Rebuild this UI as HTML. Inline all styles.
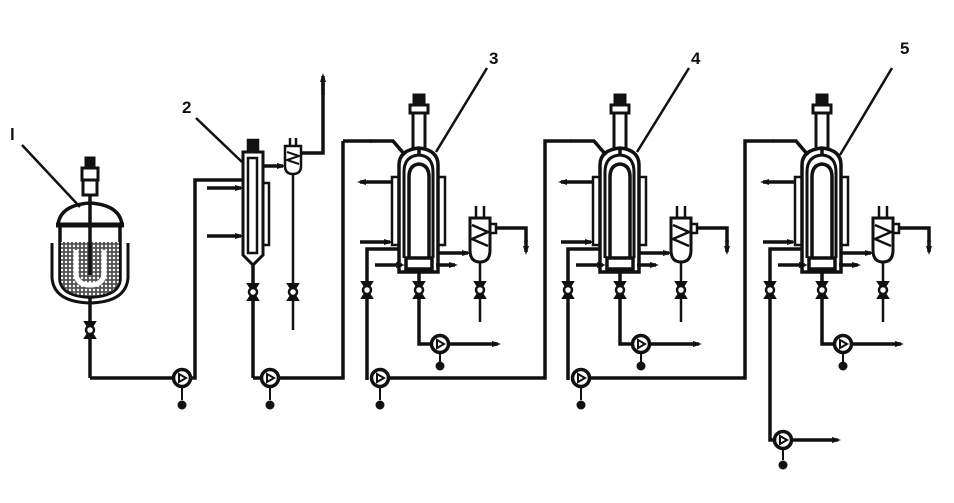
<!DOCTYPE html>
<html><head><meta charset="utf-8"><style>
html,body{margin:0;padding:0;background:#fff;width:954px;height:503px;overflow:hidden}
text{font-family:"Liberation Sans",sans-serif;font-weight:bold;font-size:17px;fill:#111}
</style></head><body>
<svg width="954" height="503" viewBox="0 0 954 503" xmlns="http://www.w3.org/2000/svg">
<defs>
<pattern id="dots" width="4" height="4" patternUnits="userSpaceOnUse"><rect width="4" height="4" fill="#555"/><circle cx="2" cy="2" r="1.2" fill="#fff"/></pattern>
<marker id="ar" markerWidth="9" markerHeight="8" refX="6" refY="4" orient="auto" markerUnits="userSpaceOnUse"><path d="M0,1 L9,4 L0,7 Z" fill="#111"/></marker>
<g id="pump"><circle r="8.5" fill="#fff" stroke="#111" stroke-width="3.5"/><path d="M-3,-4 L4,0 L-3,4 Z" fill="none" stroke="#111" stroke-width="2"/></g>
<g id="valve"><path d="M-5,-8 L5,-8 L-5,8 L5,8 Z" fill="#111" stroke="#111" stroke-width="2"/><circle r="4" fill="#fff" stroke="#111" stroke-width="2.5"/></g>
<g id="stage" stroke="#111" fill="none" stroke-width="3.5">
  <rect x="414" y="95" width="10" height="10" stroke-width="3" fill="#111"/>
  <rect x="410" y="105" width="18" height="8" stroke-width="3"/>
  <rect x="413" y="113" width="12" height="37" stroke-width="3"/>
  <path d="M399,272 L399,165 Q399,150 419,148 Q438,150 438,165 L438,272 Z" fill="#fff"/>
  <rect x="392" y="177" width="7" height="68" stroke-width="2.5"/>
  <rect x="438" y="177" width="7" height="68" stroke-width="2.5"/>
  <path d="M404,258 L404,172 Q404,156 419,155 Q433,156 433,172 L433,258" stroke-width="3"/>
  <path d="M409,258 L409,177 Q409,165 419,164 Q429,165 429,177 L429,258" stroke-width="3.5"/>
  <line x1="419" y1="148" x2="419" y2="156"/>
  <rect x="406" y="258" width="26" height="11" stroke-width="3.5"/>
  <line x1="392" y1="182" x2="360" y2="182" marker-end="url(#ar)"/>
  <line x1="360" y1="242" x2="390" y2="242" marker-end="url(#ar)"/>
  <line x1="375" y1="265" x2="402" y2="265" marker-end="url(#ar)"/>
  <line x1="436" y1="265" x2="455" y2="265" marker-end="url(#ar)"/>
  <line x1="438" y1="253" x2="468" y2="253" marker-end="url(#ar)"/>
  <polyline points="399,249 367,249 367,380"/>
  <polyline points="419,269 419,344 432,344"/>
  <line x1="448" y1="344" x2="498" y2="344" marker-end="url(#ar)"/>
  <line x1="440" y1="352" x2="440" y2="362" stroke-width="2"/>
  <circle cx="440" cy="366" r="4.5" fill="#111" stroke="none"/>
  <path d="M470,218 L490,218 L490,250 Q490,262 480,262 Q470,262 470,250 Z" fill="#fff" stroke-width="3"/>
  <polyline points="472,225 488,232 472,239 488,246" stroke-width="2.5"/>
  <line x1="476" y1="206" x2="476" y2="218" stroke-width="2.5"/>
  <line x1="484" y1="206" x2="484" y2="218" stroke-width="2.5"/>
  <rect x="490" y="224" width="6" height="9" stroke-width="2.5"/>
  <polyline points="496,228 526,228 526,242" />
  <line x1="526" y1="240" x2="526" y2="252" marker-end="url(#ar)"/>
  <line x1="480" y1="262" x2="480" y2="322" stroke-width="2.5"/>
  <polyline points="405,155 393,141 370,141" />
</g>
</defs>

<g stroke="#111" fill="none" stroke-width="3.5">
  <rect x="86" y="158" width="8" height="10" stroke-width="3" fill="#111"/>
  <rect x="82" y="168" width="16" height="12" stroke-width="3"/>
  <rect x="83" y="180" width="14" height="15" stroke-width="3"/>
  <path d="M58,225 Q60,205 90,203 Q120,205 122,225" fill="#fff"/>
  <path d="M52,243 L52,278 Q54,302 90,303 Q126,302 128,278 L128,243" fill="#fff" stroke-width="3"/>
  <path d="M60,225 L60,280 Q62,296 90,297 Q118,296 120,280 L120,225" fill="#fff"/>
  <path d="M61,242 L119,242 L119,280 Q117,295 90,296 Q63,295 61,280 Z" fill="url(#dots)" stroke="none"/>
  <path d="M76,250 L76,275 Q78,285 90,285 Q102,285 104,275 L104,250" stroke="#fff" stroke-width="5"/>
  <line x1="56" y1="225" x2="124" y2="225" stroke-width="5"/>
  <line x1="90" y1="195" x2="90" y2="275"/>
  <line x1="90" y1="298" x2="90" y2="378"/>
  <polyline points="90,378 172,378"/>
  <polyline points="190,378 195,378 195,180 243,180"/>
  <line x1="182" y1="386" x2="182" y2="400" stroke-width="2"/>
</g>
<use href="#valve" x="90" y="330"/>
<use href="#pump" x="182" y="378"/>
<circle cx="182" cy="405" r="4.5" fill="#111"/>

<g stroke="#111" fill="none" stroke-width="3.5">
  <rect x="248" y="140" width="10" height="10" stroke-width="2.5" fill="#111"/>
  <path d="M243,152 L263,152 L263,255 L253,265 L243,255 Z" fill="#fff" stroke-width="3"/>
  <rect x="248" y="158" width="9" height="95" stroke-width="2.5"/>
  <rect x="263" y="183" width="6" height="62" stroke-width="2.5"/>
  <line x1="207" y1="188" x2="241" y2="188" marker-end="url(#ar)"/>
  <line x1="207" y1="236" x2="241" y2="236" marker-end="url(#ar)"/>
  <line x1="263" y1="166" x2="283" y2="166" marker-end="url(#ar)"/>
  <line x1="253" y1="265" x2="253" y2="378"/>
  <polyline points="253,378 262,378"/>
  <polyline points="278,378 343,378 343,141"/>
  <line x1="270" y1="386" x2="270" y2="400" stroke-width="2"/>
  <path d="M285,146 L301,146 L301,166 Q301,174 293,174 Q285,174 285,166 Z" fill="#fff" stroke-width="2.5"/>
  <polyline points="287,152 299,156 287,160 299,164" stroke-width="2"/>
  <line x1="290" y1="138" x2="290" y2="146" stroke-width="2.5"/>
  <line x1="296" y1="138" x2="296" y2="146" stroke-width="2.5"/>
  <polyline points="301,153 323,153 323,80"/>
  <line x1="323" y1="95" x2="323" y2="76" marker-end="url(#ar)"/>
  <line x1="293" y1="174" x2="293" y2="330" stroke-width="2.5"/>
</g>
<use href="#valve" x="253" y="292"/>
<use href="#valve" x="293" y="292"/>
<use href="#pump" x="270" y="378"/>
<circle cx="270" cy="405" r="4.5" fill="#111"/>

<use href="#stage"/>
<use href="#stage" x="201"/>
<use href="#stage" x="403"/>

<g stroke="#111" fill="none" stroke-width="3.5">
  <line x1="343" y1="141" x2="372" y2="141"/>
  <polyline points="388,378 545,378 545,141 572,141"/>
  <polyline points="589,378 745,378 745,141 774,141"/>
  <polyline points="770,380 770,440 775,440"/>
  <line x1="791" y1="440" x2="838" y2="440" marker-end="url(#ar)"/>
  <line x1="380" y1="386" x2="380" y2="400" stroke-width="2"/>
  <line x1="581" y1="386" x2="581" y2="400" stroke-width="2"/>
  <line x1="783" y1="448" x2="783" y2="460" stroke-width="2"/>
</g>
<g>
<use href="#valve" x="367" y="290"/><use href="#valve" x="419" y="290"/><use href="#valve" x="480" y="290"/>
<use href="#valve" x="568" y="290"/><use href="#valve" x="620" y="290"/><use href="#valve" x="681" y="290"/>
<use href="#valve" x="770" y="290"/><use href="#valve" x="822" y="290"/><use href="#valve" x="883" y="290"/>
<use href="#pump" x="440" y="344"/><use href="#pump" x="641" y="344"/><use href="#pump" x="843" y="344"/>
<use href="#pump" x="380" y="378"/><use href="#pump" x="581" y="378"/><use href="#pump" x="783" y="440"/>
<circle cx="380" cy="405" r="4.5" fill="#111"/><circle cx="581" cy="405" r="4.5" fill="#111"/><circle cx="783" cy="465" r="4.5" fill="#111"/>
</g>

<g stroke="#111" stroke-width="2.5">
  <line x1="22" y1="145" x2="80" y2="207"/>
  <line x1="196" y1="118" x2="242" y2="162"/>
  <line x1="436" y1="152" x2="487" y2="68"/>
  <line x1="637" y1="152" x2="689" y2="68"/>
  <line x1="840" y1="155" x2="892" y2="68"/>
</g>
<text x="10" y="140">l</text>
<text x="182" y="113">2</text>
<text x="489" y="64">3</text>
<text x="691" y="64">4</text>
<text x="900" y="54">5</text>
</svg>
</body></html>
